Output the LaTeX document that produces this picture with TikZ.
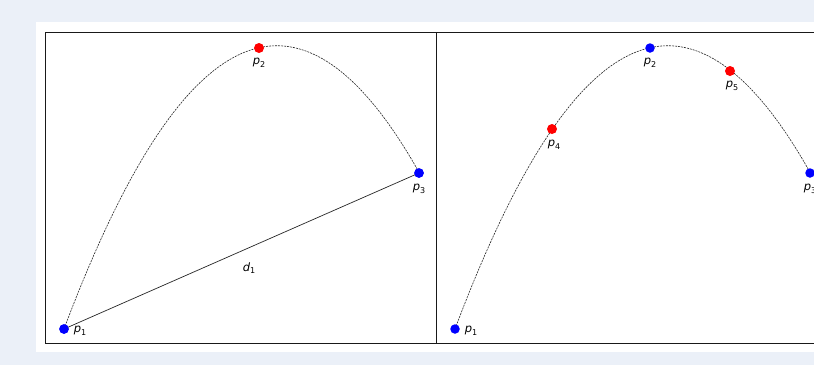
\documentclass[tikz,border=0pt]{standalone}
\usepackage{fontspec}
\setmainfont{DejaVu Sans}
\newcommand{\lbl}[2]{{\itshape #1}\raisebox{-0.4ex}{\fontsize{8}{8}\selectfont #2}}
\tikzset{
  panel/.style={draw=black!90, line width=1pt},
  curve/.style={draw=black!85, line width=0.6pt, dash pattern=on 2pt off 1pt},
  chord/.style={draw=black!85, line width=0.7pt},
  bluedot/.style={circle, fill=blue, inner sep=0pt, minimum size=9.5pt},
  reddot/.style={circle, fill=red, inner sep=0pt, minimum size=10pt},
  lab/.style={font=\fontsize{11.5}{11.5}\selectfont, inner sep=0pt, text=black}
}
\begin{document}
\begin{tikzpicture}[x=1pt,y=-1pt]
\useasboundingbox (0,0) rectangle (814,365);
\fill[color={rgb,255:red,235;green,240;blue,248}] (0,0) rectangle (814,365);
\fill[white] (36,22) rectangle (814,352);
% left panel
\draw[curve] plot[domain=64:419, samples=120, smooth] (\x, {0.00626*\x*\x - 3.463*\x + 524.97});
\node[bluedot] (a1) at (64,329) {};
\node[reddot] (a2) at (259,48) {};
\node[bluedot] (a3) at (419,173) {};
\draw[chord] (a1.center) -- (a3.center);
\node[bluedot] at (a1) {};
\node[bluedot] at (a3) {};
\node[lab] (la1) at (80,331) {\lbl{p}{1}};
\node[lab] (la2) at (259,63) {\lbl{p}{2}};
\node[lab] (la3) at (419,189) {\lbl{p}{3}};
\node[lab] (ld1) at (249,268) {\lbl{d}{1}};
% right panel
\begin{scope}[xshift=391pt]
\draw[curve] plot[domain=64:419, samples=120, smooth] (\x, {0.00626*\x*\x - 3.463*\x + 524.97});
\node[bluedot] (b1) at (64,329) {};
\node[reddot] (b4) at (161,129) {};
\node[bluedot] (b2) at (259,48) {};
\node[reddot] (b5) at (339,71) {};
\node[bluedot] (b3) at (419,173) {};
\node[lab] (lb1) at (80,331) {\lbl{p}{1}};
\node[lab] (lb4) at (163,145) {\lbl{p}{4}};
\node[lab] (lb2) at (259,63) {\lbl{p}{2}};
\node[lab] (lb5) at (341,86) {\lbl{p}{5}};
\node[lab] (lb3) at (419,189) {\lbl{p}{3}};
\end{scope}
\draw[panel] (45,32) rectangle (436,343);
\draw[panel] (436,32) rectangle (827,343);
\end{tikzpicture}
\end{document}
